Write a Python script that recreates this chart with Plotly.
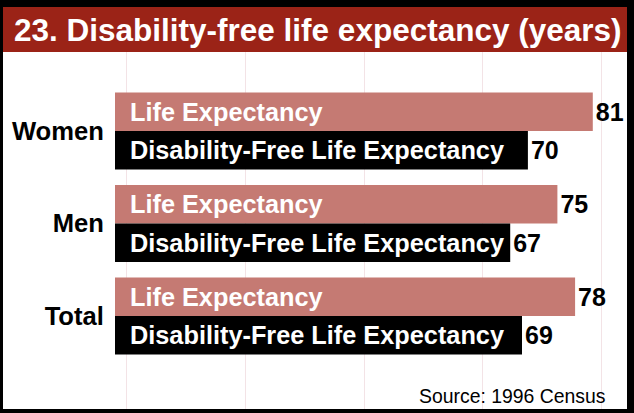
import plotly.graph_objects as go

categories = ["Women", "Men", "Total"]
life_expectancy = [81, 75, 78]
disability_free = [70, 67, 69]
series_names = ["Life Expectancy", "Disability-Free Life Expectancy"]
title_text = "23. Disability-free life expectancy (years)"
source_text = "Source: 1996 Census"

W, H = 634, 413
L, R, T, B = 115, 7, 52, 4
pw, ph = W - L - R, H - T - B

def px_x(px):
    return (px - L) / pw

def px_y(py):
    return (H - B - py) / ph

pos = list(range(len(categories)))
bargap = 0.167
font = "Liberation Sans, Arial, sans-serif"
pink = "#C57A73"
red = "#9B2317"

fig = go.Figure()
fig.add_trace(go.Bar(
    y=pos, x=life_expectancy, orientation="h", name=series_names[0],
    marker=dict(color=pink, line=dict(width=0)),
    text=[str(v) for v in life_expectancy], textposition="outside",
    constraintext="none", cliponaxis=False,
    textfont=dict(family=font, size=25, color="black", weight="bold"),
))
fig.add_trace(go.Bar(
    y=pos, x=disability_free, orientation="h", name=series_names[1],
    marker=dict(color="black", line=dict(width=0)),
    text=[str(v) for v in disability_free], textposition="outside",
    constraintext="none", cliponaxis=False,
    textfont=dict(family=font, size=25, color="black", weight="bold"),
))

off = (1 - bargap) / 4
annotations = []
for i, c in enumerate(pos):
    for k, name in enumerate(series_names):
        annotations.append(dict(
            x=0, y=c + (-off if k == 0 else off), xref="x", yref="y",
            text="<b>" + name + "</b>", showarrow=False, xanchor="left",
            yanchor="middle", xshift=13,
            font=dict(family=font, size=25.3, color="white"),
        ))

annotations.append(dict(
    x=px_x(12), y=px_y(29.5), xref="paper", yref="paper",
    text="<b>" + title_text + "</b>", showarrow=False,
    xanchor="left", yanchor="middle",
    font=dict(family=font, size=31.5, color="white"),
))
annotations.append(dict(
    x=px_x(607), y=px_y(396), xref="paper", yref="paper",
    text=source_text, showarrow=False, xanchor="right", yanchor="middle",
    font=dict(family=font, size=19.4, color="black"),
))

shapes = [
    dict(type="rect", xref="paper", yref="paper", x0=px_x(3), x1=1,
         y0=0, y1=1, fillcolor="white", line=dict(width=0), layer="below"),
    dict(type="rect", xref="paper", yref="paper", x0=px_x(3), x1=1,
         y0=1, y1=px_y(7), fillcolor=red, line=dict(width=0), layer="below"),
]

fig.update_layout(
    width=W, height=H,
    margin=dict(l=L, r=R, t=T, b=B, pad=0),
    paper_bgcolor="black", plot_bgcolor="white",
    barmode="group", bargap=bargap, bargroupgap=0,
    showlegend=False,
    annotations=annotations, shapes=shapes,
    xaxis=dict(range=[0, 86.8], showticklabels=False, ticks="",
               showgrid=True, gridcolor="#F3E3E6", gridwidth=1,
               tick0=2.03, dtick=20.1, zeroline=False, showline=False,
               fixedrange=True),
    yaxis=dict(range=[3.005, -0.854], tickvals=pos, ticktext=categories,
               ticks="outside", ticklen=5, tickcolor="rgba(0,0,0,0)",
               tickfont=dict(family=font, size=25.6, color="black", weight="bold"),
               showgrid=False, zeroline=False, showline=False, fixedrange=True),
)

fig.write_html(
    "out.html",
    config={"displayModeBar": False},
    post_script="document.body.style.margin='0';document.body.style.overflow='hidden';",
)
